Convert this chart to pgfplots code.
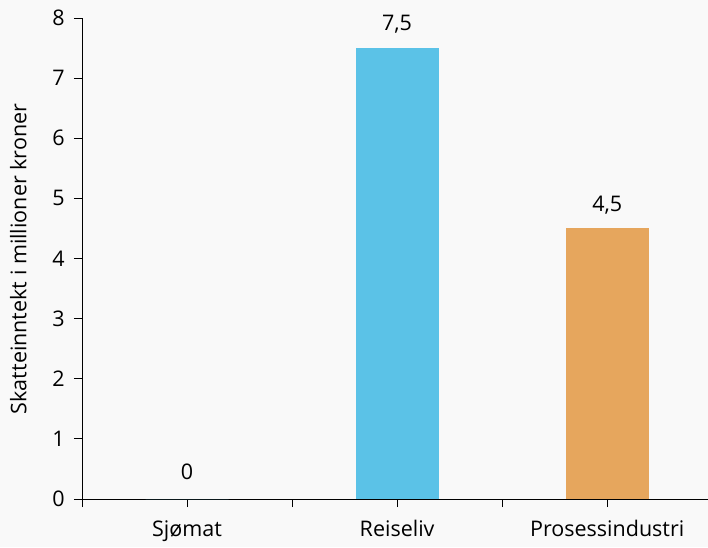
\documentclass[border=0pt]{standalone}
\usepackage{pgfplots}
\pgfplotsset{compat=1.18}
\usepackage{fontspec}
\setmainfont{Open Sans}
\definecolor{bg}{HTML}{F9F9F9}
\definecolor{cblue}{HTML}{5BC2E7}
\definecolor{corange}{HTML}{E6A65D}
\begin{document}
\fontsize{21.5}{26}\selectfont
\begin{tikzpicture}
\fill[bg] (0,0) rectangle (708pt,547pt);
\useasboundingbox (0,0) rectangle (708pt,547pt);
\begin{axis}[
  at={(82pt,48pt)}, anchor=south west,
  width=626pt, height=481pt, scale only axis,
  xmin=-0.5, xmax=2.48, ymin=0, ymax=8,
  axis x line=bottom, axis y line=left,
  axis line style={-, line width=0.9pt, black},
  xtick={0,1,2},
  xticklabels={Sjømat,Reiseliv,Prosessindustri},
  minor xtick={-0.5,0.5,1.5},
  ytick={0,1,...,8},
  tick style={line width=0.9pt, black},
  major tick length=8pt, minor tick length=8pt,
  tick align=outside,
  x tick label style={yshift=-6pt},
  y tick label style={xshift=-2pt},
  /pgf/number format/assume math mode=true,
  ylabel={Skatteinntekt i millioner kroner},
  ylabel style={at={(-48pt,240pt)}, anchor=south},
  ybar, bar width=83pt,
  nodes near coords,
  every node near coord/.append style={/pgf/number format/use comma, /pgf/number format/assume math mode=true, yshift=7pt},
  clip=false,
]
\addplot[fill=cblue, draw=none, bar shift=0pt, every node near coord/.append style={yshift=5pt}] coordinates {(0,0)};
\addplot[fill=cblue, draw=none, bar shift=0pt] coordinates {(1,7.5)};
\addplot[fill=corange, draw=none, bar shift=0pt] coordinates {(2,4.5)};
\end{axis}
\end{tikzpicture}
\end{document}
